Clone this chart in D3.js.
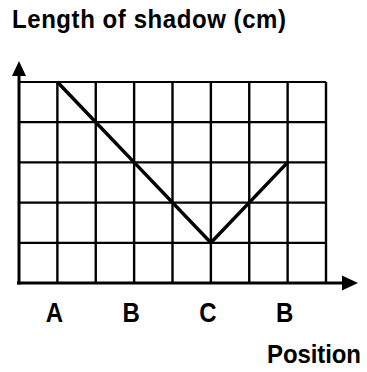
<!DOCTYPE html>
<html>
<head>
<meta charset="utf-8">
<script src="https://cdn.jsdelivr.net/npm/d3@7"></script>
<style>
  body { margin: 0; background: #fff; }
  text { font-family: 'Liberation Sans', Arial, sans-serif; font-weight: bold; fill: #000; }
</style>
</head>
<body>
<div id="chart"></div>
<script>
// positions along the walk, placed on every other grid column
const positions = ['A', 'B', 'C', 'B']
const positionCols = [1, 3, 5, 7]
// shadow length in grid units at each position
const shadowLength = [5, 3, 1, 3]

const width = 367
const height = 372

const svg = d3
  .select('#chart')
  .append('svg')
  .attr('width', width)
  .attr('height', height)

const x = d3.scaleLinear().domain([0, 8]).range([19, 326])
const y = d3.scaleLinear().domain([0, 5]).range([283, 82])

// grid
svg
  .selectAll('.vgrid')
  .data(d3.range(1, 9))
  .enter()
  .append('line')
  .attr('x1', d => x(d))
  .attr('x2', d => x(d))
  .attr('y1', y(0))
  .attr('y2', y(5))
  .attr('stroke', '#000')
  .attr('stroke-width', 2.4)

svg
  .selectAll('.hgrid')
  .data(d3.range(1, 6))
  .enter()
  .append('line')
  .attr('x1', x(0))
  .attr('x2', x(8))
  .attr('y1', d => y(d))
  .attr('y2', d => y(d))
  .attr('stroke', '#000')
  .attr('stroke-width', 2.2)

// axes with arrowheads
svg
  .append('line')
  .attr('x1', x(0))
  .attr('x2', x(0))
  .attr('y1', y(0) + 1.5)
  .attr('y2', 74)
  .attr('stroke', '#000')
  .attr('stroke-width', 3)
svg
  .append('path')
  .attr('d', `M${x(0)},61 L${x(0) - 7},76 L${x(0) + 7},76 Z`)
  .attr('fill', '#000')

svg
  .append('line')
  .attr('x1', x(0) - 2)
  .attr('x2', 345)
  .attr('y1', y(0))
  .attr('y2', y(0))
  .attr('stroke', '#000')
  .attr('stroke-width', 3)
svg
  .append('path')
  .attr('d', `M358,${y(0)} L342,${y(0) - 7.5} L342,${y(0) + 7.5} Z`)
  .attr('fill', '#000')

// the shadow line
const pts = positions.map((p, i) => ({ col: positionCols[i], len: shadowLength[i] }))
const line = d3
  .line()
  .x(d => x(d.col))
  .y(d => y(d.len))

svg
  .append('path')
  .datum(pts)
  .attr('d', line)
  .attr('fill', 'none')
  .attr('stroke', '#000')
  .attr('stroke-width', 3.5)
  .attr('stroke-linejoin', 'miter')

// position labels
svg
  .selectAll('.pos-label')
  .data(positions)
  .enter()
  .append('text')
  .attr('class', 'pos-label')
  .text(d => d)
  .attr('text-anchor', 'middle')
  .attr('transform', (d, i) => `translate(${x(positionCols[i]) - 3},322) scale(1,1.12)`)
  .style('font-size', '24px')

// titles
svg
  .append('text')
  .text('Length of shadow (cm)')
  .attr('transform', 'translate(12,28) scale(1,1.05)')
  .style('font-size', '24px')
  .attr('textLength', 274)

svg
  .append('text')
  .text('Position')
  .attr('transform', 'translate(267,363) scale(1,1.1)')
  .style('font-size', '24px')
  .attr('textLength', 94)
</script>
</body>
</html>
